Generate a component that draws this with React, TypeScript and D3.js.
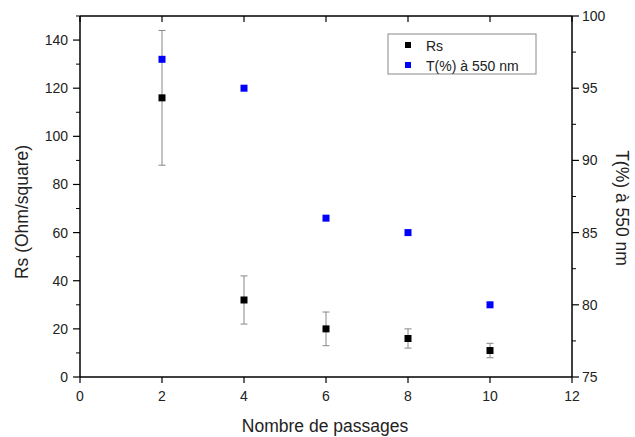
import React from "react";
import * as d3 from "d3";

const passages = [2, 4, 6, 8, 10];
const rsValues = [116, 32, 20, 16, 11];
const rsErrLow = [88, 22, 13, 12, 8];
const rsErrHigh = [144, 42, 27, 20, 14];
const tValues = [97, 95, 86, 85, 80];
const xTicks = [0, 2, 4, 6, 8, 10, 12];
const leftTicks = [0, 20, 40, 60, 80, 100, 120, 140];
const leftMinor = [10, 30, 50, 70, 90, 110, 130, 150];
const rightTicks = [75, 80, 85, 90, 95, 100];
const rightMinor = [77.5, 82.5, 87.5, 92.5, 97.5];
const legendLabels = ["Rs", "T(%) à 550 nm"];

const W = 635, H = 437;
const L = 80, R = 572, T = 16, B = 377;
const FONT = "Liberation Sans, Arial, sans-serif";

export default function App() {
  const x = d3.scaleLinear().domain([0, 12]).range([L, R]);
  const yL = d3.scaleLinear().domain([0, 150]).range([B, T]);
  const yR = d3.scaleLinear().domain([75, 100]).range([B, T]);
  const ms = 7;
  const axisColor = "#000";
  return (
    <svg width={W} height={H} style={{ position: "absolute", left: 0, top: 0, background: "#fff" }} fontFamily={FONT}>
      <rect x={0} y={0} width={W} height={H} fill="#fff" />
      {/* axes frame */}
      <line x1={L} y1={B} x2={R} y2={B} stroke={axisColor} strokeWidth={1.5} />
      <line x1={L} y1={T} x2={R} y2={T} stroke={axisColor} strokeWidth={1.5} />
      <line x1={L} y1={T} x2={L} y2={B} stroke={axisColor} strokeWidth={1.5} />
      <line x1={R} y1={T} x2={R} y2={B} stroke={axisColor} strokeWidth={1.5} />
      {/* x ticks */}
      {xTicks.map((v) => (
        <g key={"xt" + v}>
          <line x1={x(v)} x2={x(v)} y1={B} y2={B + 6} stroke={axisColor} strokeWidth={1.2} />
          <line x1={x(v)} x2={x(v)} y1={T} y2={T + 6} stroke={axisColor} strokeWidth={1.2} />
          <text x={x(v)} y={B + 24} fontSize={14} textAnchor="middle" fill="#222">{v}</text>
        </g>
      ))}
      {/* left ticks */}
      {leftTicks.map((v) => (
        <g key={"lt" + v}>
          <line x1={L - 7} x2={L} y1={yL(v)} y2={yL(v)} stroke={axisColor} strokeWidth={1.2} />
          <text x={L - 12} y={yL(v) + 5} fontSize={14} textAnchor="end" fill="#222">{v}</text>
        </g>
      ))}
      {leftMinor.map((v) => (
        <line key={"lm" + v} x1={L - 4} x2={L} y1={yL(v)} y2={yL(v)} stroke={axisColor} strokeWidth={1} />
      ))}
      {/* right ticks */}
      {rightTicks.map((v) => (
        <g key={"rt" + v}>
          <line x1={R} x2={R + 7} y1={yR(v)} y2={yR(v)} stroke={axisColor} strokeWidth={1.2} />
          <text x={R + 10} y={yR(v) + 5} fontSize={14} textAnchor="start" fill="#222">{v}</text>
        </g>
      ))}
      {rightMinor.map((v) => (
        <line key={"rm" + v} x1={R} x2={R + 4} y1={yR(v)} y2={yR(v)} stroke={axisColor} strokeWidth={1} />
      ))}
      {/* error bars */}
      {passages.map((p, i) => (
        <g key={"eb" + p} stroke="#888" strokeWidth={1}>
          <line x1={x(p)} x2={x(p)} y1={yL(rsErrLow[i])} y2={yL(rsErrHigh[i])} />
          <line x1={x(p) - 3.5} x2={x(p) + 3.5} y1={yL(rsErrLow[i])} y2={yL(rsErrLow[i])} />
          <line x1={x(p) - 3.5} x2={x(p) + 3.5} y1={yL(rsErrHigh[i])} y2={yL(rsErrHigh[i])} />
        </g>
      ))}
      {/* Rs points */}
      {passages.map((p, i) => (
        <rect key={"rs" + p} x={x(p) - ms / 2} y={yL(rsValues[i]) - ms / 2} width={ms} height={ms} fill="#000" />
      ))}
      {/* T points */}
      {passages.map((p, i) => (
        <rect key={"t" + p} x={x(p) - ms / 2} y={yR(tValues[i]) - ms / 2} width={ms} height={ms} fill="#0000ff" />
      ))}
      {/* legend */}
      <rect x={388} y={34} width={148} height={40} fill="#fff" stroke="#888" strokeWidth={1} />
      <rect x={408 - 3} y={45 - 3} width={6} height={6} fill="#000" />
      <text x={426} y={50.5} fontSize={14} fill="#222">{legendLabels[0]}</text>
      <rect x={408 - 3} y={65 - 3} width={6} height={6} fill="#0000ff" />
      <text x={426} y={70.5} fontSize={14} fill="#222">{legendLabels[1]}</text>
      {/* titles */}
      <text x={325} y={431.5} fontSize={17.5} textAnchor="middle" fill="#222">Nombre de passages</text>
      <text transform={`translate(27.5,212) rotate(-90)`} fontSize={17.5} textAnchor="middle" fill="#222">Rs (Ohm/square)</text>
      <text transform={`translate(616,208) rotate(90)`} fontSize={17.5} textAnchor="middle" fill="#222">T(%) à 550 nm</text>
    </svg>
  );
}
